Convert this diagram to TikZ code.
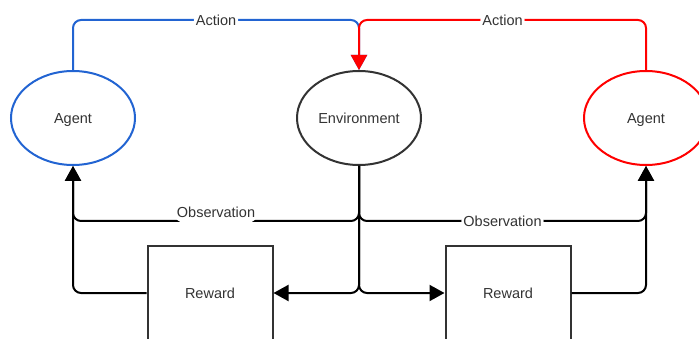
\documentclass[tikz,border=0pt]{standalone}
\usepackage{fontspec}
\setmainfont{Liberation Sans}
\usetikzlibrary{arrows.meta,shapes.geometric}
\definecolor{actblue}{RGB}{34,100,210}
\definecolor{edgegray}{RGB}{51,51,51}

\begin{document}
\begin{tikzpicture}[x=1pt, y=-1pt, font=\fontsize{14.5}{17}\selectfont, text=edgegray,
  agent/.style={ellipse, draw, line width=2pt, minimum width=124pt, minimum height=94pt, inner sep=0pt,
    text height=10.5pt, text depth=0pt},
  rewbox/.style={rectangle, draw=edgegray, line width=2pt, minimum width=125pt, minimum height=94pt},
  flow/.style={line width=2pt, rounded corners=8pt},
  tip/.style={-{Triangle[length=15pt,width=16pt]}},
  lbl/.style={fill=white, inner sep=2pt}]
  \useasboundingbox (0,0) rectangle (699,339);
  \clip (0,0) rectangle (699,339);

  \node[agent, draw=actblue] (agentL) at (73,118) {Agent};
  \node[agent, draw=edgegray] (env) at (359,118) {Environment};
  \node[agent, draw=red] (agentR) at (646,118) {Agent};
  \node[rewbox] (rewL) at (210,293) {Reward};
  \node[rewbox] (rewR) at (508,293) {Reward};
  \coordinate (acty) at (0,20);
  \coordinate (obsy) at (0,221);

  % actions
  \draw[flow, tip, draw=actblue] (agentL.north) -- (agentL.north |- acty) -| (env.north)
    node[pos=.25, lbl] {Action};
  \draw[flow, tip, draw=red] (agentR.north) -- (agentR.north |- acty) -| (env.north)
    node[pos=.25, lbl] {Action};

  % observations
  \draw[flow, tip] (env.south) -- (env.south |- obsy) -| (agentL.south)
    node[pos=.25, lbl, inner ysep=5pt, yshift=9pt] {Observation};
  \draw[flow, tip] (env.south) -- (env.south |- obsy) -| (agentR.south)
    node[pos=.25, lbl] {Observation};

  % rewards
  \draw[flow, tip] (env.south) |- (rewL.east);
  \draw[flow, tip] (env.south) |- (rewR.west);
  \draw[flow, tip] (rewL.west) -| (agentL.south);
  \draw[flow, tip] (rewR.east) -| (agentR.south);
\end{tikzpicture}
\end{document}
